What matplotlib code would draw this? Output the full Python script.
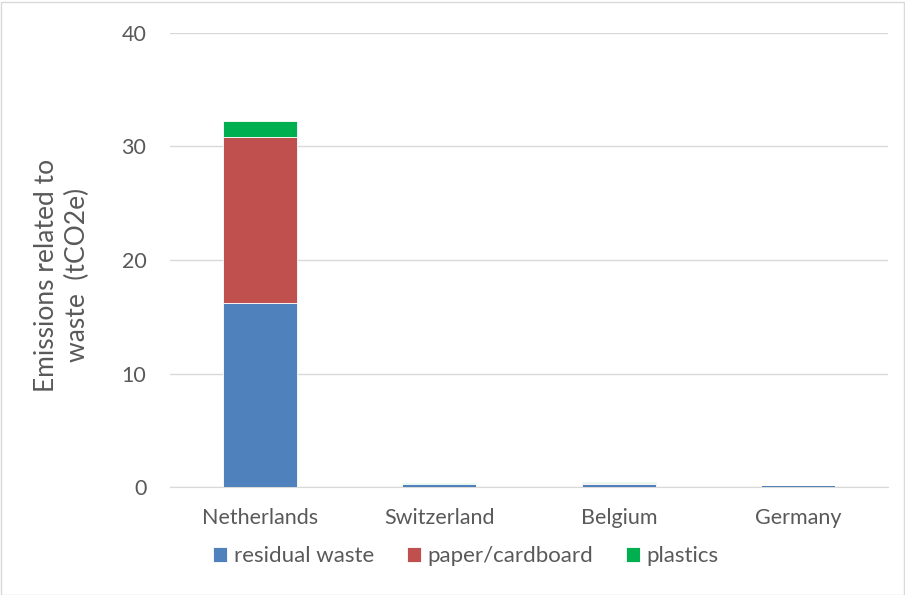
import matplotlib
matplotlib.use("Agg")
import matplotlib.pyplot as plt
import numpy as np

countries = ["Netherlands", "Switzerland", "Belgium", "Germany"]
residual_waste = [16.2, 0.28, 0.30, 0.18]
paper_cardboard = [14.6, 0.02, 0.03, 0.01]
plastics = [1.45, 0.05, 0.08, 0.01]
series_names = ["residual waste", "paper/cardboard", "plastics"]
colors = ["#4f81bd", "#c0504d", "#00b050"]
yticks = [0, 10, 20, 30, 40]

plt.rcParams["font.family"] = ["Lato", "DejaVu Sans"]

fig = plt.figure(figsize=(9.05, 5.95), dpi=100)
ax = fig.add_axes([170 / 905, 1 - 487 / 595, 718 / 905, 454 / 595])

x = np.arange(len(countries))
bottom = np.zeros(len(countries))
for vals, name, col in zip([residual_waste, paper_cardboard, plastics], series_names, colors):
    ax.bar(x, vals, 0.41, bottom=bottom, color=col, label=name,
           edgecolor="white", linewidth=0.6, zorder=3)
    bottom += np.array(vals)

ax.set_xlim(-0.5, len(countries) - 0.5)
ax.set_ylim(0, 40)
ax.set_yticks(yticks)
ax.set_xticks(x)
ax.set_xticklabels(countries)
ax.grid(axis="y", color="#d9d9d9", linewidth=1, zorder=0)
for s in ["top", "right", "left"]:
    ax.spines[s].set_visible(False)
ax.spines["bottom"].set_color("#d9d9d9")
ax.tick_params(axis="both", length=0, colors="#595959", labelsize=15.5)
ax.tick_params(axis="x", pad=15)
ax.tick_params(axis="y", pad=17)

fig.text(62 / 905, 1 - 275 / 595, "Emissions related to\nwaste  (tCO2e)", rotation=90,
         ha="center", va="center", fontsize=19, color="#595959", linespacing=1.3)

leg = fig.legend(loc="center", bbox_to_anchor=(466 / 905, 1 - 556 / 595), ncol=3,
                 frameon=False, fontsize=16, handlelength=0.65, handleheight=0.65,
                 handletextpad=0.3, columnspacing=1.45)
for t in leg.get_texts():
    t.set_color("#595959")

fig.patches.append(plt.Rectangle((0.5 / 905, 0.5 / 595), 903 / 905, 593 / 595,
                                 transform=fig.transFigure, fill=False,
                                 edgecolor="#d9d9d9", linewidth=1))

fig.savefig("out.png", dpi=100)
